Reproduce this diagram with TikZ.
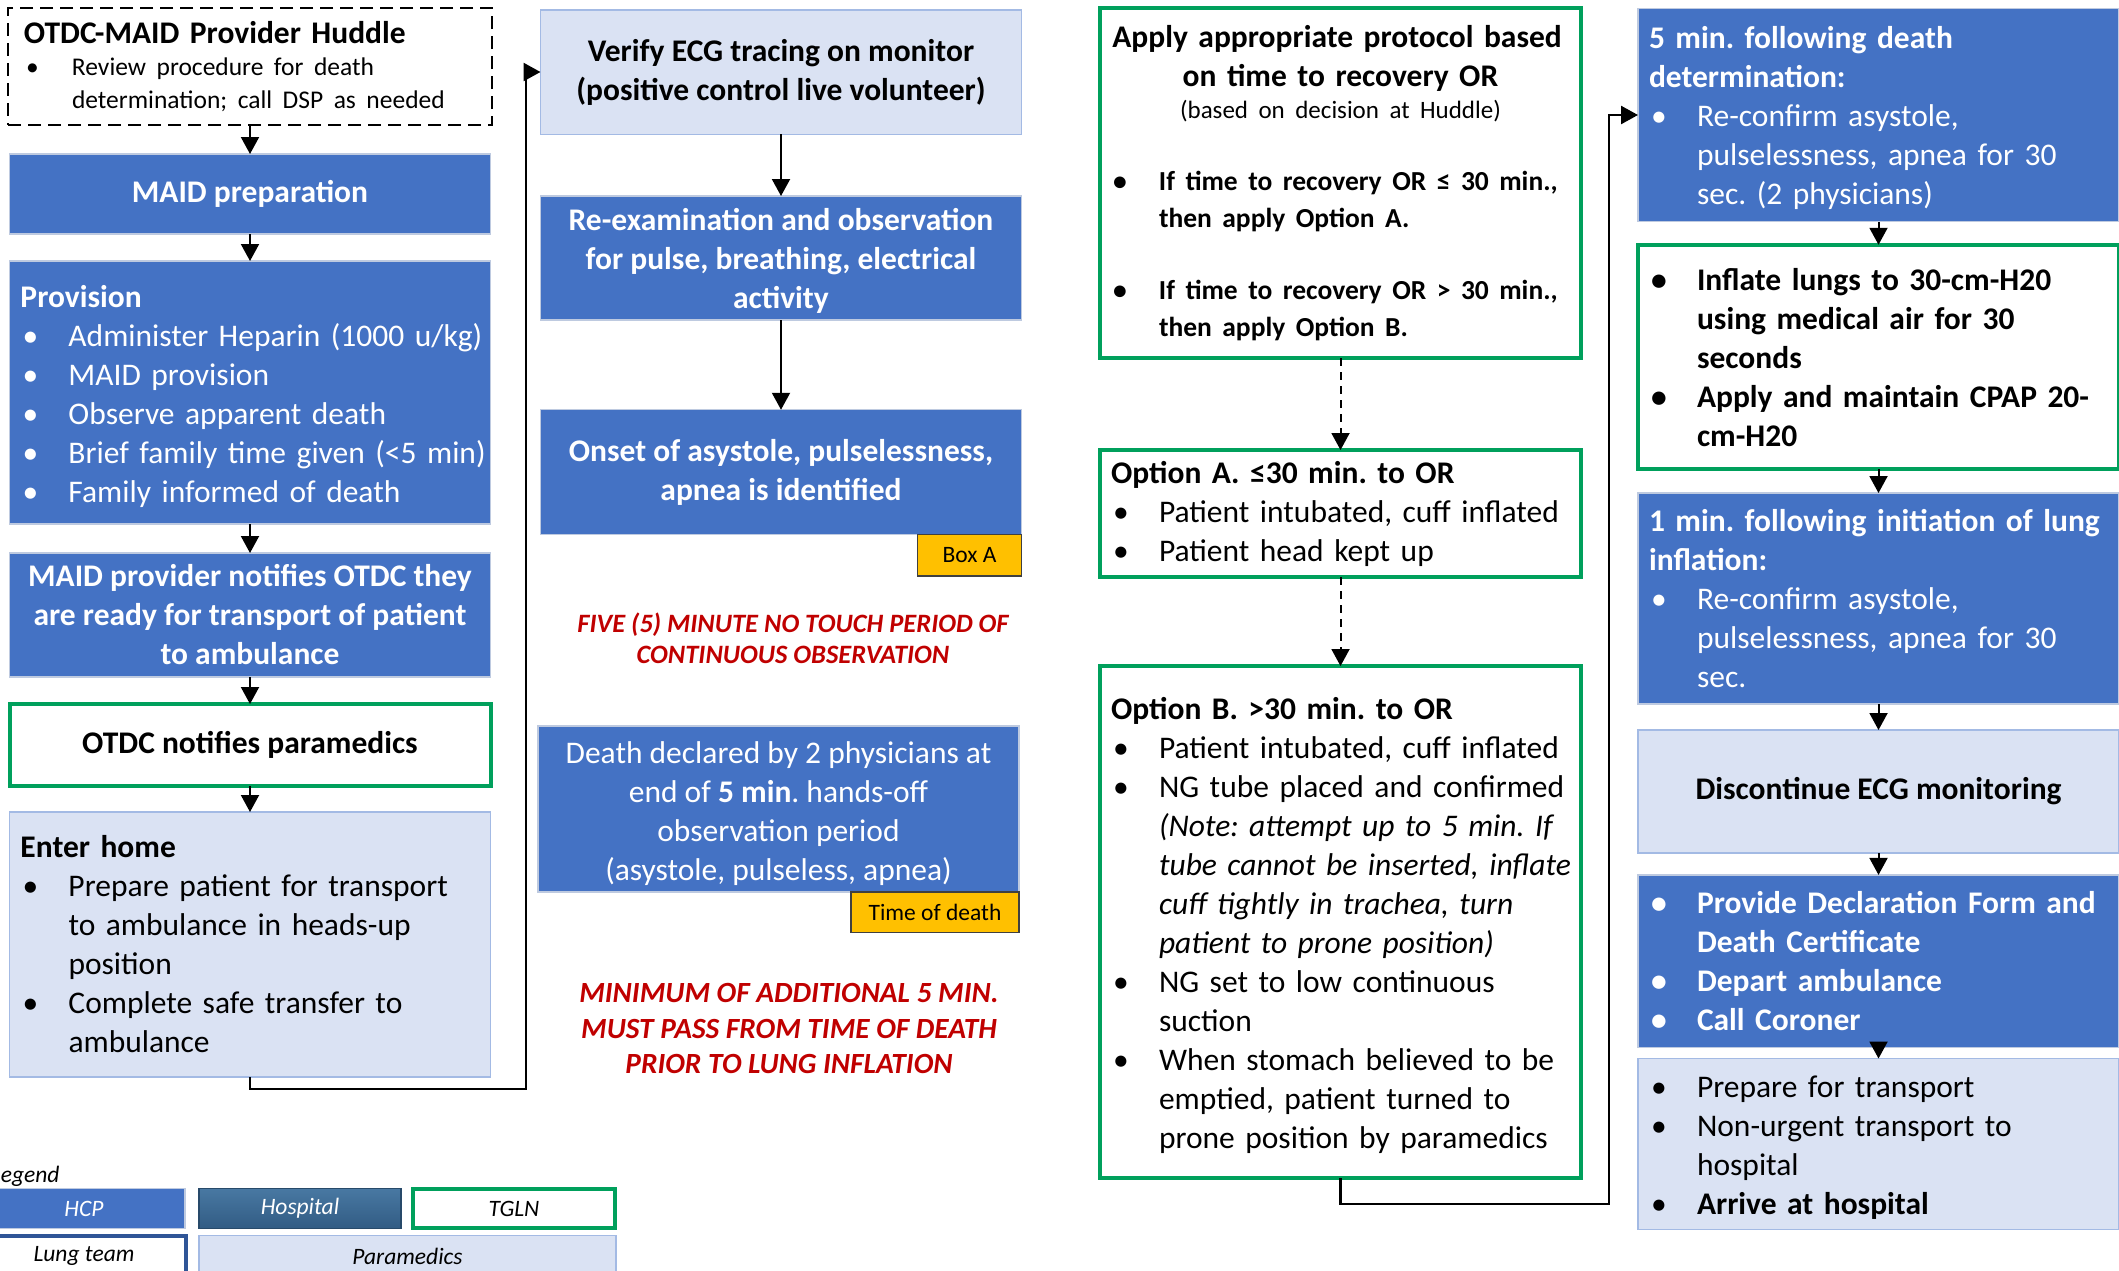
\documentclass[tikz,border=0pt]{standalone}
\usepackage{fontspec}
\setmainfont{Carlito}
\usetikzlibrary{arrows.meta}

% palette
\definecolor{hcp}{RGB}{68,114,196}
\definecolor{hcpbd}{RGB}{190,202,224}
\definecolor{para}{RGB}{218,226,243}
\definecolor{parabd}{RGB}{163,186,228}
\definecolor{tgln}{RGB}{0,160,92}
\definecolor{lung}{RGB}{47,85,151}
\definecolor{hospA}{RGB}{72,120,162}
\definecolor{hospB}{RGB}{50,92,132}
\definecolor{yell}{RGB}{255,192,0}
\definecolor{redc}{RGB}{192,0,0}

% type sizes (1pt = 1px of the layout grid)
\newcommand\fbody{\fontsize{31.5}{39}\selectfont}
\newcommand\fsmall{\fontsize{25.5}{32.5}\selectfont}
\newcommand\fnote{\fontsize{25}{32}\selectfont}
\newcommand\fapply{\fontsize{27.5}{37}\selectfont}
\newcommand\fredA{\fontsize{26.5}{31}\selectfont}
\newcommand\fredB{\fontsize{29.3}{35.5}\selectfont}
\newcommand\flabel{\fontsize{23.5}{28}\selectfont}

% bulleted paragraph with hanging indent, closed inside its own scope
\newlength\bind
\setlength\bind{48pt}
\newcommand\bitem[1]{\par\hangindent=\bind\hangafter=1\noindent\makebox[\bind][l]{\hspace{2pt}\textbullet}#1\par}
% list text set flush left, lines broken by hand only
\newcommand\liststart{\raggedright\rightskip=-40pt plus 1fil\setlength\parindent{0pt}\leftskip=5.5pt\hyphenpenalty=10000\exhyphenpenalty=10000}
\newcommand\listend{\par}
% extra room above the first line / below the last one, to balance a block in its box
\newcommand\padtop[1]{\rule{0pt}{#1}}
\newcommand\padbot[1]{\par\vspace*{#1}}

\frenchspacing

\begin{document}
\begin{tikzpicture}[x=1pt,y=-1pt,
  every node/.style={inner sep=0pt,outer sep=0pt},
  bx/.style={rectangle,minimum width=481pt,inner ysep=0pt,font=\fbody},
  lst/.style={bx,text width=470pt,inner xsep=5.5pt,
    execute at begin node=\liststart,
    execute at end node=\listend},
  cbox/.style={bx,inner xsep=0pt,align=center},
  hcpst/.style={fill=hcp,draw=hcpbd,line width=1.2pt,text=white},
  parast/.style={fill=para,draw=parabd,line width=1.5pt,text=black},
  tglnst/.style={fill=white,draw=tgln,line width=4pt,text=black},
  labbox/.style={rectangle,fill=yell,draw=black!75,line width=1.5pt,font=\flabel},
  redtxt/.style={align=center,text=redc},
  lgbox/.style={rectangle,minimum height=39.5pt,font=\flabel\itshape},
  arr/.style={-{Triangle[width=18pt,length=17pt]},line width=2pt},
  darr/.style={arr,dash pattern=on 8pt off 6pt},
  link/.style={-{Triangle[width=18pt,length=17pt]},line width=2.5pt}
]
\useasboundingbox (0,0) rectangle (2119,1270);

% ---------------- left column ----------------
\node[lst,fill=white,draw=black,line width=2pt,dash pattern=on 13pt off 7pt,
      minimum width=484pt,inner xsep=7pt,minimum height=117pt] (huddle) at (250,66.5)
  {\leftskip=9pt\textbf{OTDC-MAID Provider Huddle}\par
   {\fsmall\bitem{Review procedure for death\newline determination; call DSP as needed}}};

\node[cbox,hcpst,font=\fbody\bfseries,minimum height=80pt] (prep) at (250,194) {MAID preparation};

\node[lst,hcpst,minimum height=263pt] (prov) at (250,392.5)
  {\padtop{30pt}\textbf{Provision}
   \bitem{Administer Heparin (1000 u/kg)}
   \bitem{MAID provision}
   \bitem{Observe apparent death}
   \bitem{Brief family time given (<5 min)}
   \bitem{Family informed of death}};

\node[cbox,hcpst,font=\fbody\bfseries,minimum height=124pt] (notify) at (250,615)
  {MAID provider notifies OTDC they\\are ready for transport of patient\\to ambulance};

\node[cbox,tglnst,font=\fbody\bfseries,minimum height=82pt] (otdc) at (250,745) {OTDC notifies paramedics};

\node[lst,parast,minimum height=265pt] (enter) at (250,944.5)
  {\textbf{Enter home}
   \bitem{Prepare patient for transport\newline to ambulance in heads-up\newline position}
   \bitem{Complete safe transfer to\newline ambulance}};

% ---------------- middle column ----------------
\node[cbox,parast,font=\fbody\bfseries,minimum height=124.5pt] (verify) at (781,72)
  {Verify ECG tracing on monitor\\(positive control live volunteer)};

\node[cbox,hcpst,font=\fbody\bfseries,minimum height=124pt] (reexam) at (781,258)
  {\rule{0pt}{28pt}Re-examination and observation\\for pulse, breathing, electrical\\activity};

\node[cbox,hcpst,font=\fbody\bfseries,minimum height=124.5pt] (onset) at (781,472)
  {Onset of asystole, pulselessness,\\apnea is identified};

\node[labbox,minimum width=104pt,minimum height=41.5pt] (boxa) at (969.6,555) {Box A};

\node[redtxt,font=\fredA\bfseries\itshape] (notouch) at (793,638.5)
  {FIVE (5) MINUTE NO TOUCH PERIOD OF\\CONTINUOUS OBSERVATION};

\node[cbox,hcpst,minimum height=166pt] (death) at (778.5,809)
  {\rule{0pt}{32pt}Death declared by 2 physicians at\\end of \textbf{5 min}. hands-off\\observation period\\(asystole, pulseless, apnea)};

\node[labbox,minimum width=168pt,minimum height=40.5pt] (tod) at (935,912) {Time of death};

\node[redtxt,font=\fredB\bfseries\itshape] (minwait) at (789,1028.5)
  {MINIMUM OF ADDITIONAL 5 MIN.\\MUST PASS FROM TIME OF DEATH\\PRIOR TO LUNG INFLATION};

% ---------------- protocol column ----------------
\node[lst,tglnst,minimum height=350pt] (apply) at (1340.5,183)
  {{\centering\bfseries Apply appropriate protocol based\newline on time to recovery OR\par}
   {\centering\fnote (based on decision at Huddle)\par}
   \vspace{35pt}
   {\fapply\bfseries
    \bitem{If time to recovery OR ≤ 30 min.,\newline then apply Option A.}
    \vspace{35pt}
    \bitem{If time to recovery OR > 30 min.,\newline then apply Option B.}}};

\node[lst,tglnst,minimum height=127pt] (opta) at (1340.5,513.5)
  {\textbf{Option A. ≤30 min. to OR}
   \bitem{Patient intubated, cuff inflated}
   \bitem{Patient head kept up}};

\node[lst,tglnst,minimum height=512pt] (optb) at (1340.5,922)
  {\padtop{30pt}\textbf{Option B. >30 min. to OR}
   \bitem{Patient intubated, cuff inflated}
   \bitem{NG tube placed and confirmed\newline \textit{(Note: attempt up to 5 min. If\newline tube cannot be inserted, inflate\newline cuff tightly in trachea, turn\newline patient to prone position)}}
   \bitem{NG set to low continuous\newline suction}
   \bitem{When stomach believed to be\newline emptied, patient turned to\newline prone position by paramedics}};

% ---------------- right column ----------------
\node[lst,hcpst,minimum height=213.5pt] (five) at (1878.5,115)
  {\padtop{29pt}\textbf{5 min. following death\newline determination:}
   \bitem{Re-confirm asystole,\newline pulselessness, apnea for 30\newline sec. (2 physicians)}};

\node[lst,tglnst,font=\fbody\bfseries,minimum height=224.5pt] (inflate) at (1878.5,357)
  {\bitem{Inflate lungs to 30-cm-H20\newline using medical air for 30\newline seconds}
   \bitem{Apply and maintain CPAP 20-\newline cm-H20}\padbot{16pt}};

\node[lst,hcpst,minimum height=211pt] (onemin) at (1878.5,598.5)
  {\textbf{1 min. following initiation of lung\newline inflation:}
   \bitem{Re-confirm asystole,\newline pulselessness, apnea for 30\newline sec.}};

\node[cbox,parast,font=\fbody\bfseries,minimum height=123pt] (disc) at (1878.5,791.5)
  {Discontinue ECG monitoring};

\node[lst,hcpst,font=\fbody\bfseries,minimum height=167.5pt] (provide) at (1878.5,961)
  {\bitem{Provide Declaration Form and\newline Death Certificate}
   \bitem{Depart ambulance}
   \bitem{Call Coroner}\padbot{16pt}};

\node[lst,parast,minimum height=152.5pt] (transport) at (1878.5,1144)
  {\bitem{Prepare for transport}
   \bitem{Non-urgent transport to\newline hospital}
   \bitem{\textbf{Arrive at hospital}}\padbot{10pt}};

% ---------------- connectors ----------------
\draw[arr] (huddle.south) -- (prep.north);
\draw[arr] (prep.south) -- (prov.north);
\draw[arr] (prov.south) -- (notify.north);
\draw[arr] (notify.south) -- (otdc.north);
\draw[arr] (otdc.south) -- (enter.north);

\coordinate (bendL) at (526,1089);
\draw[link] (enter.south) |- (bendL) |- (verify.west);

\draw[arr] (verify.south) -- (reexam.north);
\draw[arr] (reexam.south) -- (onset.north);

\draw[darr] (apply.south) -- (opta.north);
\draw[darr] (opta.south) -- (optb.north);

\coordinate (bendR) at (1609,1204);
\draw[link] (optb.south) |- (bendR) |- (five.west);

\draw[arr] (five.south) -- (inflate.north);
\draw[arr] (inflate.south) -- (onemin.north);
\draw[arr] (onemin.south) -- (disc.north);
\draw[arr] (disc.south) -- (provide.north);
\draw[arr] (provide.south) -- (transport.north);

% ---------------- legend ----------------
\node[font=\flabel\itshape,anchor=east] (legtitle) at (59.5,1176) {Legend};
\node[lgbox,fill=hcp,draw=hcpbd,line width=1.2pt,text=white,minimum width=202pt] (lhcp) at (84,1208.5) {HCP};
\node[lgbox,top color=hospA,bottom color=hospB,draw=hospB!80!black,line width=1.2pt,text=white,minimum width=202pt] (lhosp) at (300,1208.5) {Hospital};
\node[lgbox,fill=white,draw=tgln,line width=4pt,minimum width=202pt] (ltgln) at (514,1208.5) {TGLN};
\node[lgbox,fill=white,draw=lung,line width=4pt,minimum width=203pt,minimum height=41pt] (llung) at (84,1256) {Lung team};
\node[lgbox,fill=para,draw=parabd,line width=1.5pt,minimum width=417pt,minimum height=41pt] (lpara) at (407.5,1256) {Paramedics};
\end{tikzpicture}
\end{document}
